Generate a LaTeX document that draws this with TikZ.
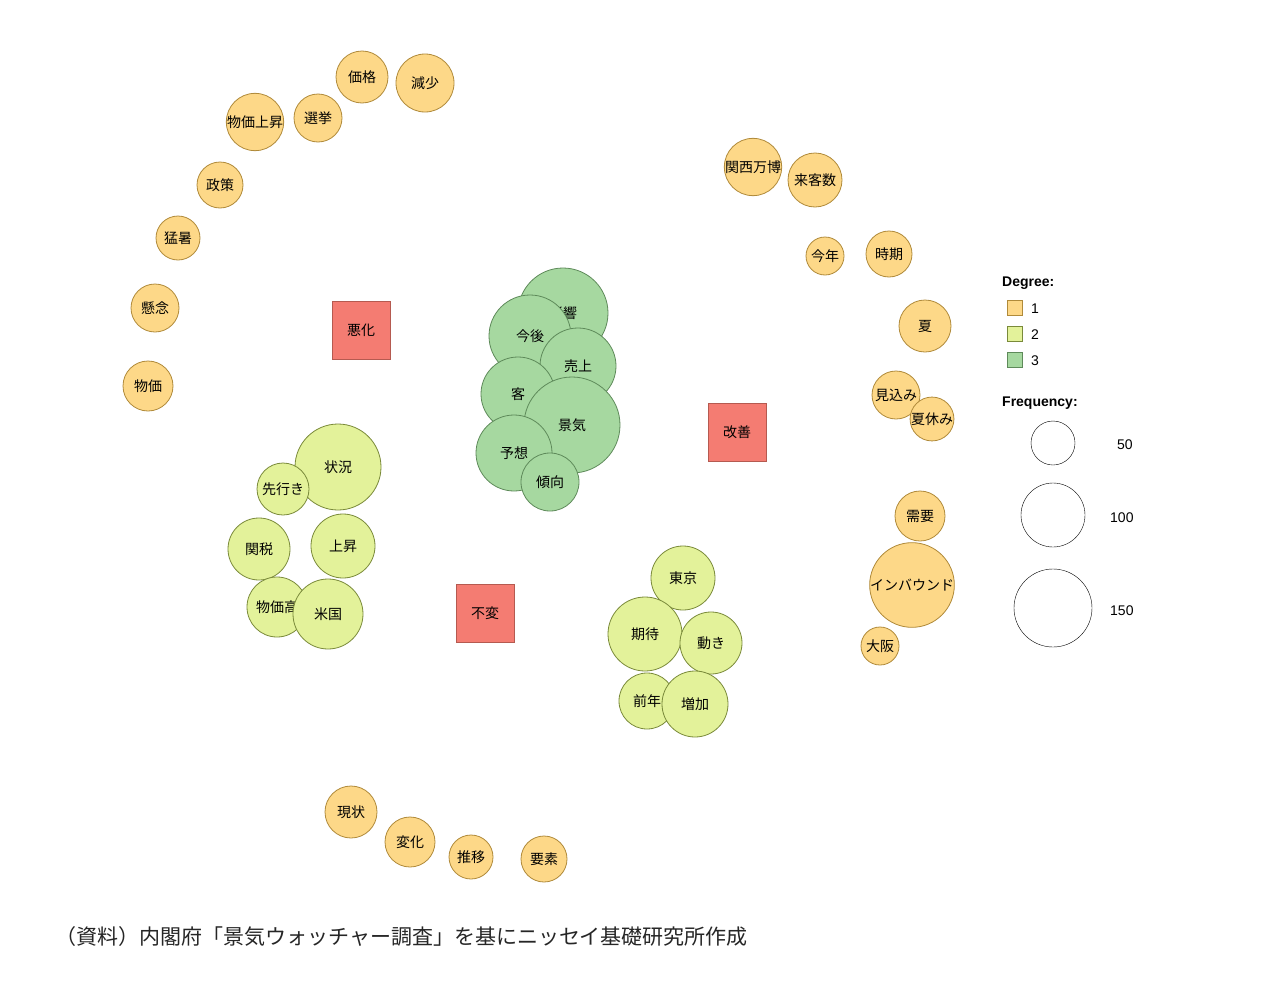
\documentclass[tikz,border=0pt]{standalone}
\usepackage{fontspec}
\setmainfont{Liberation Sans}
\newfontfamily\jp{Noto Sans CJK JP}
\usetikzlibrary{backgrounds}
\definecolor{cA}{HTML}{FDD888}\definecolor{cAd}{HTML}{B08A3A}
\definecolor{cB}{HTML}{E3F29A}\definecolor{cBd}{HTML}{7A8A3A}
\definecolor{cC}{HTML}{A6D8A0}\definecolor{cCd}{HTML}{5E8A5A}
\definecolor{hub}{HTML}{F47C72}\definecolor{hubd}{HTML}{B55A50}
\begin{document}
\begin{tikzpicture}[x=1pt,y=-1pt,
 lab/.style={font=\jp\fontsize{14}{14}\selectfont,inner sep=0pt,align=center},
 d1/.style={lab,circle,fill=cA,draw=cAd,line width=0.8pt},
 d2/.style={lab,circle,fill=cB,draw=cBd,line width=0.8pt},
 d3/.style={lab,circle,fill=cC,draw=cCd,line width=0.8pt},
 hubbox/.style={lab,rectangle,fill=hub,draw=hubd,line width=0.8pt,minimum size=58pt},
 edge/.style={draw=black!32,line width=0.8pt},
 leg/.style={font=\fontsize{14}{14}\selectfont,anchor=west,inner sep=0pt}]
\useasboundingbox (0,0) rectangle (1272,993);
\fill[white] (0,0) rectangle (1272,993);
\node[hubbox] (H1) at (361,330) {悪化};
\node[hubbox] (H2) at (737,432) {改善};
\node[hubbox] (H3) at (485,613) {不変};
% degree 1
\foreach \n/\x/\y/\r/\t in {a1/362/77/26/価格,a2/425/83/29/減少,a3/318/118/24/選挙,a4/255/122/23/物価上昇,a5/220/185/23/政策,a6/178/238/22/猛暑,a7/155/308/24/懸念,a8/148/386/25/物価}
 {\node[d1,minimum size=2*\r pt] (\n) at (\x,\y) {\t};}
\foreach \n/\x/\y/\r/\t in {b1/753/167/19/関西万博,b2/815/180/27/来客数,b3/825/256/19/今年,b4/889/254/23/時期,b5/925/326/26/夏,b6/896/395/24/見込み,b7/932/419/19/夏休み,b8/920/516/25/需要,b9/912/585/23/インバウンド,b10/880/646/19/大阪}
 {\node[d1,minimum size=2*\r pt] (\n) at (\x,\y) {\t};}
\foreach \n/\x/\y/\r/\t in {c1/351/812/26/現状,c2/410/842/25/変化,c3/471/857/22/推移,c4/544/859/23/要素}
 {\node[d1,minimum size=2*\r pt] (\n) at (\x,\y) {\t};}
% degree 2
\foreach \n/\x/\y/\r/\t in {e1/338/467/43/状況,e2/283/489/26/先行き,e3/259/549/31/関税,e4/343/546/32/上昇,e5/277/607/30/物価高,e6/328/614/35/米国}
 {\node[d2,minimum size=2*\r pt] (\n) at (\x,\y) {\t};}
\foreach \n/\x/\y/\r/\t in {f1/683/578/32/東京,f2/645/634/37/期待,f3/711/643/31/動き,f4/647/701/28/前年,f5/695/704/33/増加}
 {\node[d2,minimum size=2*\r pt] (\n) at (\x,\y) {\t};}
% degree 3
\foreach \n/\x/\y/\r/\t in {g1/563/313/45/影響,g2/530/336/41/今後,g3/578/366/38/売上,g4/518/394/37/客,g5/572/425/48/景気,g6/514/453/38/予想,g7/550/482/29/傾向}
 {\node[d3,minimum size=2*\r pt] (\n) at (\x,\y) {\t};}
\begin{scope}[on background layer]
\foreach \n in {a1,a2,a3,a4,a5,a6,a7,a8} \draw[edge] (H1.center)--(\n.center);
\foreach \n in {b1,b2,b3,b4,b5,b6,b7,b8,b9,b10} \draw[edge] (H2.center)--(\n.center);
\foreach \n in {c1,c2,c3,c4} \draw[edge] (H3.center)--(\n.center);
\foreach \n in {e1,e2,e3,e4,e5,e6} {\draw[edge] (H1.center)--(\n.center); \draw[edge] (H3.center)--(\n.center);}
\foreach \n in {f1,f2,f3,f4,f5} {\draw[edge] (H2.center)--(\n.center); \draw[edge] (H3.center)--(\n.center);}
\foreach \n in {g1,g2,g3,g4,g5,g6,g7} {\draw[edge] (H1.center)--(\n.center); \draw[edge] (H2.center)--(\n.center); \draw[edge] (H3.center)--(\n.center);}
\end{scope}
% legend
\node[leg,font=\bfseries\fontsize{14}{14}\selectfont] (lg1) at (1002,283) {Degree:};
\node[draw=cAd,fill=cA,minimum size=15pt,inner sep=0pt] (s1) at (1015,308) {};
\node[draw=cBd,fill=cB,minimum size=15pt,inner sep=0pt] (s2) at (1015,334) {};
\node[draw=cCd,fill=cC,minimum size=15pt,inner sep=0pt] (s3) at (1015,360) {};
\node[leg] (t1) at (1031,309) {1};
\node[leg] (t2) at (1031,335) {2};
\node[leg] (t3) at (1031,361) {3};
\node[leg,font=\bfseries\fontsize{14}{14}\selectfont] (lg2) at (1002,403) {Frequency:};
\node[circle,draw,minimum size=44pt,inner sep=0pt] (q1) at (1053,443) {};
\node[circle,draw,minimum size=64pt,inner sep=0pt] (q2) at (1053,515) {};
\node[circle,draw,minimum size=78pt,inner sep=0pt] (q3) at (1053,608) {};
\node[leg] (u1) at (1117,445) {50};
\node[leg] (u2) at (1110,518) {100};
\node[leg] (u3) at (1110,611) {150};
\node[anchor=west,inner sep=0pt,font=\jp\fontsize{21}{21}\selectfont,text=black!85] (cap) at (55,937) {（資料）内閣府「景気ウォッチャー調査」を基にニッセイ基礎研究所作成};
\end{tikzpicture}
\end{document}
